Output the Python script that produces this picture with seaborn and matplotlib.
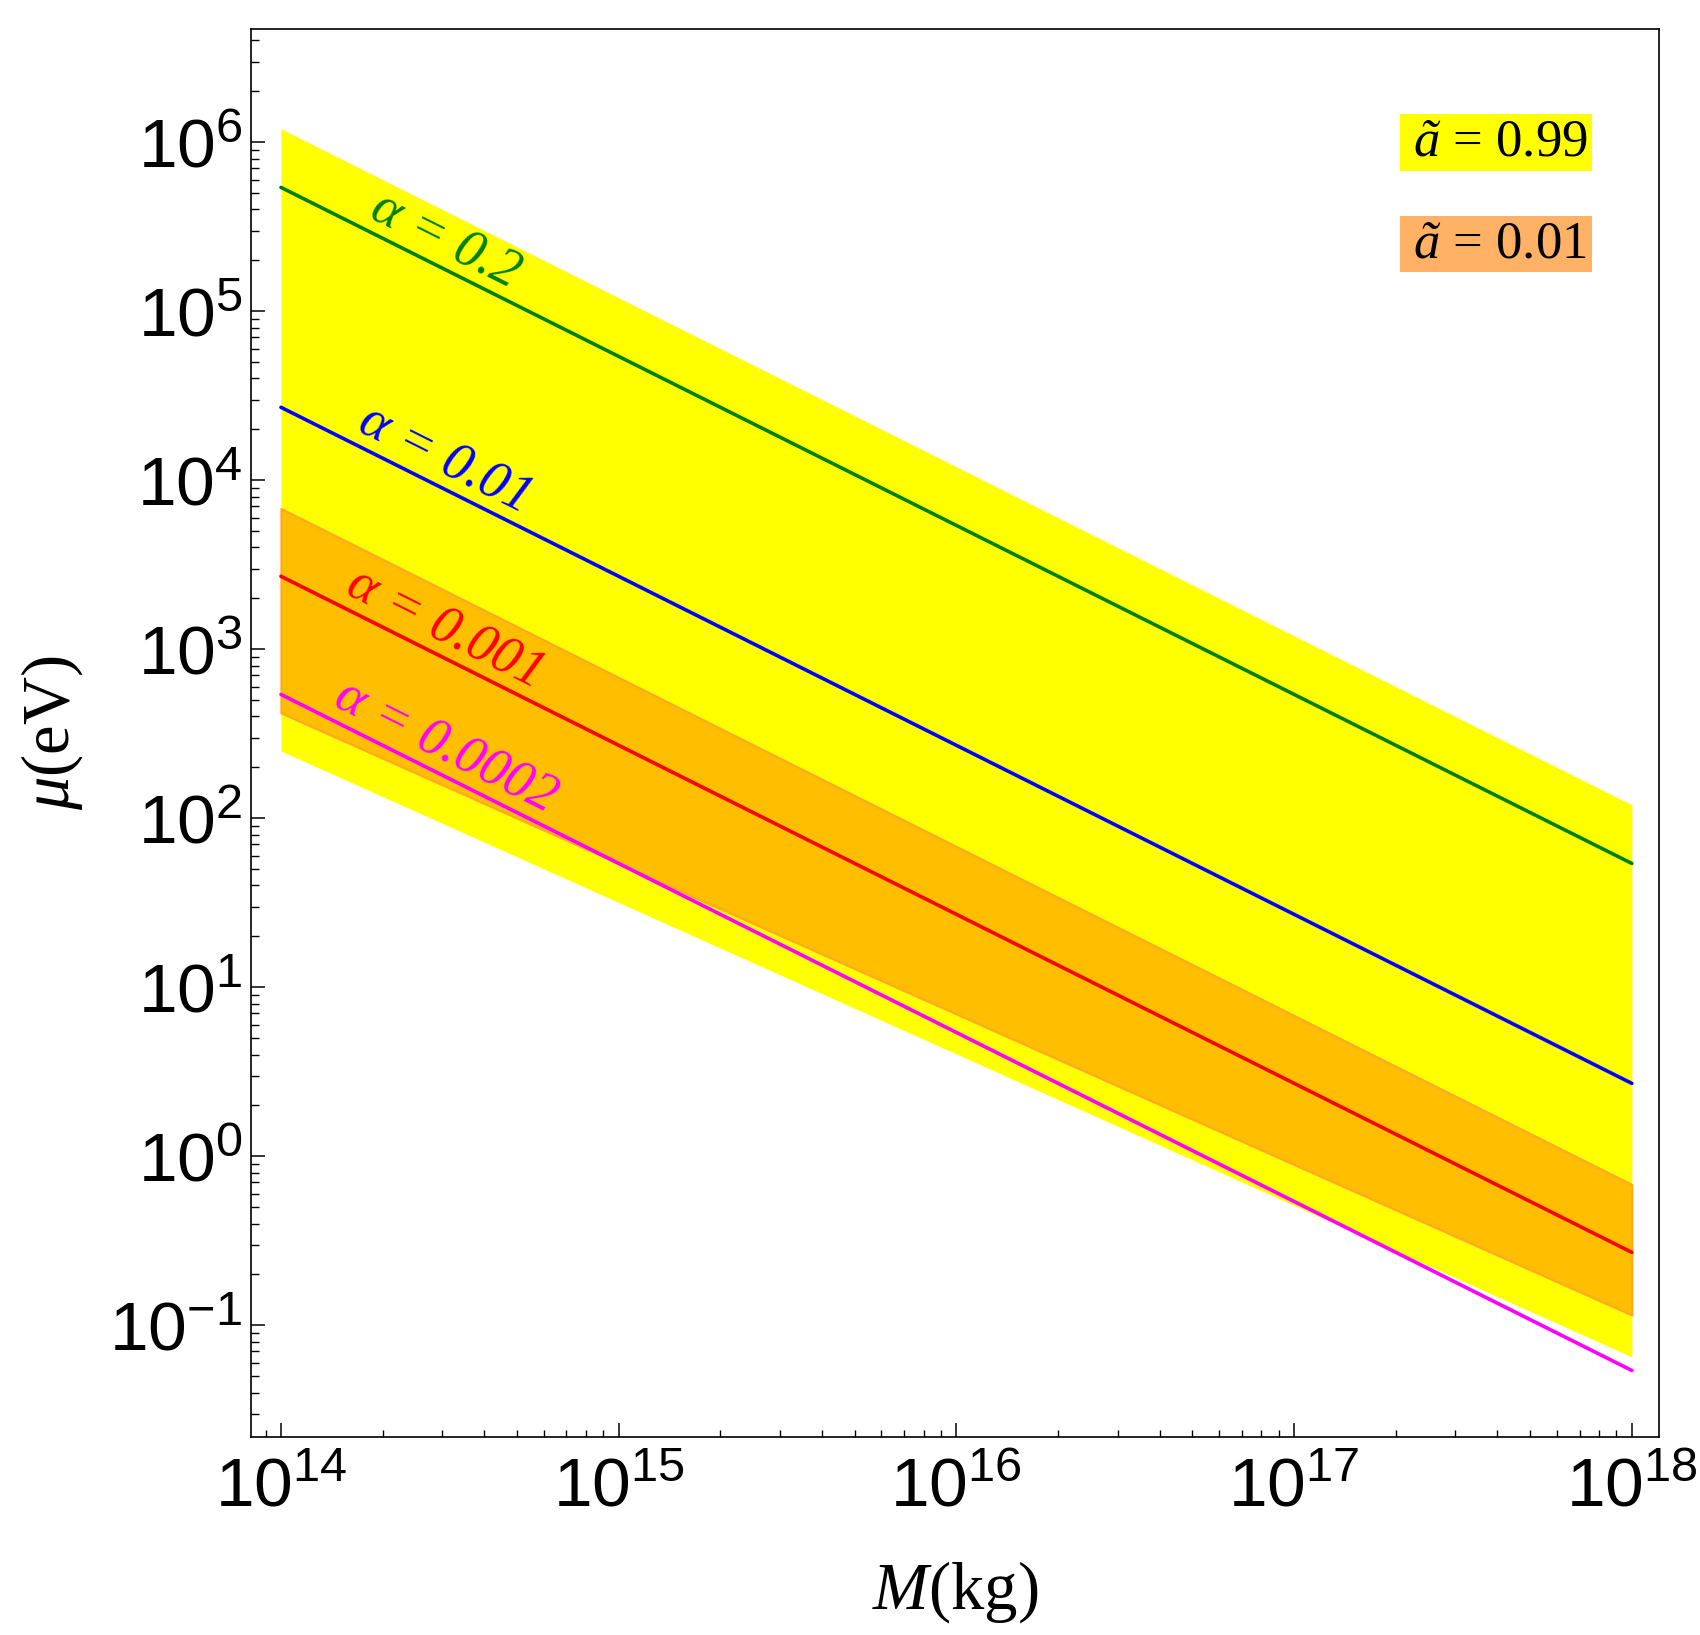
import matplotlib
matplotlib.use("Agg")
import numpy as np
import pandas as pd
import matplotlib.pyplot as plt
import seaborn as sns
from matplotlib.patches import Rectangle
from matplotlib.ticker import LogLocator, NullFormatter, FixedLocator

sns.set_style("ticks")
plt.rcParams["font.family"] = ["Liberation Sans", "DejaVu Sans"]
plt.rcParams["mathtext.fontset"] = "custom"
plt.rcParams["mathtext.rm"] = "Liberation Serif"
plt.rcParams["mathtext.it"] = "Liberation Serif:italic"
for k in ["text.color", "axes.labelcolor", "xtick.color", "ytick.color", "axes.edgecolor"]:
    plt.rcParams[k] = "black"

# valores (extremos M = 1e14 e 1e18 kg)
massa = [1e14, 1e18]

alphas = ["0.2", "0.01", "0.001", "0.0002"]
mu_a02 = [5.4e5, 54]
mu_a001 = [2.7e4, 2.7]
mu_a0001 = [2.7e3, 0.27]
mu_a00002 = [5.4e2, 0.054]
cores = ["#008000", "#0000FF", "#FF0000", "#FF00FF"]

# faixas de spin
amarelo_topo = [1.2e6, 120]
amarelo_base = [250, 0.065]
laranja_topo = [6.8e3, 0.68]
laranja_base = [420, 0.115]

# decadas marcadas nos eixos
x_decadas = [1e14, 1e15, 1e16, 1e17, 1e18]
y_decadas = [1e-1, 1e0, 1e1, 1e2, 1e3, 1e4, 1e5, 1e6]

df = pd.DataFrame({
    "M": massa * 4,
    "mu": mu_a02 + mu_a001 + mu_a0001 + mu_a00002,
    "alpha": [a for a in alphas for _ in massa],
})

fig = plt.figure(figsize=(17, 16.35), dpi=100)
ax = fig.add_axes([0.1476, 0.1211, 0.8282, 0.8612])
ax.set_xscale("log")
ax.set_yscale("log")
ax.set_xlim(10**13.911, 10**18.08)
ax.set_ylim(10**-1.661, 10**6.670)

ax.fill_between(massa, amarelo_base, amarelo_topo, color="#FFFF00", lw=0, zorder=1)
ax.fill_between(massa, laranja_base, laranja_topo, facecolor="#FFBE00",
                edgecolor="#FFAA22", lw=1.6, zorder=2)

sns.lineplot(data=df, x="M", y="mu", hue="alpha", palette=cores, hue_order=alphas,
             legend=False, lw=2.6, sort=False, estimator=None, ax=ax, zorder=3)

# rotulos ao longo das retas
fig.canvas.draw()
for a, c in zip(alphas, cores):
    sub = df[df["alpha"] == a]
    lx = np.log10(sub["M"].values)
    ly = np.log10(sub["mu"].values)
    p = ax.transData.transform(np.column_stack([sub["M"].values, sub["mu"].values]))
    ang = np.degrees(np.arctan2(p[1, 1] - p[0, 1], p[1, 0] - p[0, 0]))
    xm = 14.5
    ym = np.interp(xm, lx, ly)
    ax.annotate("α = " + a, xy=(10**xm, 10**ym), xytext=(-3, 23),
                textcoords="offset points", rotation=ang, rotation_mode="anchor",
                ha="center", va="center", color=c, fontsize=39,
                family="Liberation Serif", style="italic", zorder=4)

# legenda em caixas
ax.add_patch(Rectangle((0.816, 0.899), 0.1364, 0.0405, transform=ax.transAxes,
                       facecolor="#FFFF00", edgecolor="none", zorder=5))
ax.add_patch(Rectangle((0.816, 0.8274), 0.1364, 0.0398, transform=ax.transAxes,
                       facecolor="#FFB266", edgecolor="none", zorder=5))
ax.text(0.8253, 0.9197, r"$\mathit{ã}$ = 0.99", transform=ax.transAxes, ha="left",
        va="center", fontsize=38, family="Liberation Serif", zorder=6)
ax.text(0.8253, 0.847, r"$\mathit{ã}$ = 0.01", transform=ax.transAxes, ha="left",
        va="center", fontsize=38, family="Liberation Serif", zorder=6)

ax.xaxis.set_major_locator(FixedLocator(x_decadas))
ax.yaxis.set_major_locator(FixedLocator(y_decadas))
ax.xaxis.set_minor_locator(LogLocator(base=10, subs=np.arange(2, 10), numticks=100))
ax.yaxis.set_minor_locator(LogLocator(base=10, subs=np.arange(2, 10), numticks=100))
ax.xaxis.set_minor_formatter(NullFormatter())
ax.yaxis.set_minor_formatter(NullFormatter())

ax.tick_params(which="both", direction="in", top=False, right=False, labelsize=50,
               colors="black")
ax.tick_params(which="major", length=10, width=1.1)
ax.tick_params(which="minor", length=5.4, width=1.0)
ax.tick_params(axis="x", which="major", pad=14)
ax.tick_params(axis="y", which="major", pad=6)
for s in ax.spines.values():
    s.set_linewidth(1.2)
    s.set_color("black")

ax.set_xlabel(r"$\mathit{M}$(kg)", fontsize=48, family="Liberation Serif", color="black")
ax.set_ylabel(r"$\mathit{\mu}$(eV)", fontsize=48, family="Liberation Serif", color="black")
ax.xaxis.set_label_coords(0.5, -0.087)
ax.yaxis.set_label_coords(-0.118, 0.5)

fig.savefig("out.png", dpi=100)
